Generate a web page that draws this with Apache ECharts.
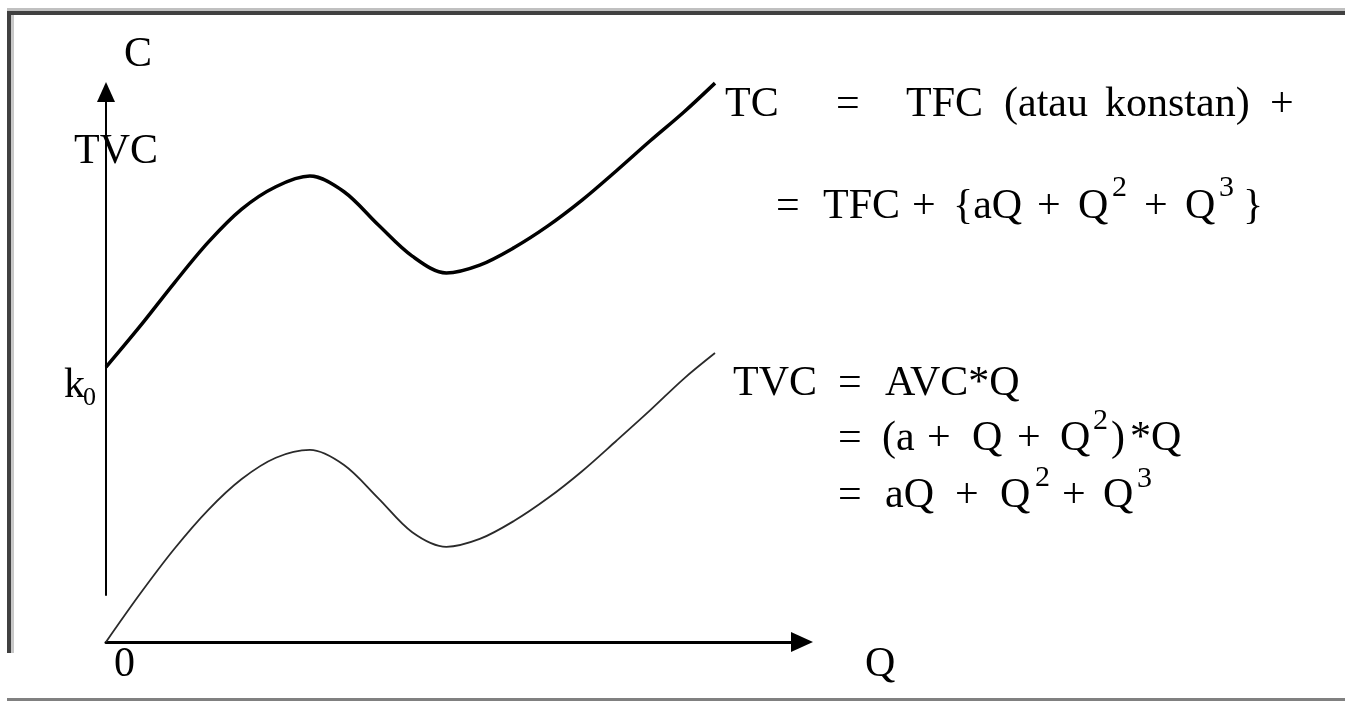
<!DOCTYPE html>
<html>
<head>
<meta charset="utf-8">
<title>TC dan TVC</title>
<script src="https://cdn.jsdelivr.net/npm/echarts@6/dist/echarts.min.js"></script>
<style>
  html, body { margin: 0; padding: 0; background: #fff; }
  #chart { width: 1345px; height: 701px; }
</style>
</head>
<body>
<div id="chart"></div>
<script>
// Output quantity Q
const quantity = [0, 0.49, 0.98, 1.47, 1.95, 2.44, 2.93, 3.42, 3.91, 4.40, 4.89, 5.37, 5.86, 6.35, 6.84, 7.33, 7.82, 8.30, 8.75];
// Total cost TC (starts at the fixed cost k0)
const totalCost = [4.91, 5.64, 6.41, 7.14, 7.73, 8.13, 8.32, 8.04, 7.45, 6.89, 6.59, 6.73, 7.04, 7.43, 7.89, 8.41, 8.95, 9.46, 9.98];
// Total variable cost TVC (starts at the origin)
const variableCost = [0, 0.86, 1.66, 2.36, 2.91, 3.29, 3.43, 3.16, 2.57, 1.96, 1.70, 1.84, 2.16, 2.57, 3.05, 3.59, 4.14, 4.70, 5.16];

const axisMax = 10;

const serif = '"Liberation Serif", "Times New Roman", serif';
const MAIN = 42;
const SUP = 30;

// [text, left x, middle y, font size]
const textLayout = [
  // axis labels
  ['C', 124, 55, MAIN],
  ['TVC', 74, 152, MAIN],
  ['k', 64, 386, MAIN],
  ['0', 83, 398, 26],
  ['0', 114, 665, MAIN],
  ['Q', 865, 665, MAIN],
  // TC = TFC (atau konstan) +
  ['TC', 725, 105, MAIN],
  ['=', 836, 105, MAIN],
  ['TFC', 906, 105, MAIN],
  ['(atau', 1004, 105, MAIN],
  ['konstan)', 1105, 105, MAIN],
  ['+', 1270, 105, MAIN],
  // = TFC + {aQ + Q2 + Q3}
  ['=', 776, 207, MAIN],
  ['TFC', 823, 207, MAIN],
  ['+', 912, 207, MAIN],
  ['{aQ', 953, 207, MAIN],
  ['+', 1037, 207, MAIN],
  ['Q', 1078, 207, MAIN],
  ['2', 1112, 188, SUP],
  ['+', 1144, 207, MAIN],
  ['Q', 1185, 207, MAIN],
  ['3', 1219, 188, SUP],
  ['}', 1243, 207, MAIN],
  // TVC = AVC*Q
  ['TVC', 733, 384, MAIN],
  ['=', 838, 384, MAIN],
  ['AVC*Q', 885, 384, MAIN],
  // = (a + Q + Q2)*Q
  ['=', 838, 439, MAIN],
  ['(a', 882, 439, MAIN],
  ['+', 927, 439, MAIN],
  ['Q', 972, 439, MAIN],
  ['+', 1017, 439, MAIN],
  ['Q', 1060, 439, MAIN],
  ['2', 1093, 421, SUP],
  [')', 1111, 439, MAIN],
  ['*Q', 1130, 439, MAIN],
  // = aQ + Q2 + Q3
  ['=', 838, 496, MAIN],
  ['aQ', 885, 496, MAIN],
  ['+', 955, 496, MAIN],
  ['Q', 1000, 496, MAIN],
  ['2', 1035, 478, SUP],
  ['+', 1062, 496, MAIN],
  ['Q', 1103, 496, MAIN],
  ['3', 1137, 479, SUP]
];

function textEl(t) {
  return {
    type: 'text',
    x: t[1],
    y: t[2],
    silent: true,
    z: 10,
    style: {
      text: t[0],
      font: t[3] + 'px ' + serif,
      fill: '#000',
      align: 'left',
      verticalAlign: 'middle',
      textAlign: 'left',
      textVerticalAlign: 'middle'
    }
  };
}

// page frame
const frame = [
  { type: 'line', silent: true, shape: { x1: 7, y1: 9.5, x2: 1345, y2: 9.5 }, style: { stroke: '#c0c0c0', lineWidth: 3 } },
  { type: 'line', silent: true, shape: { x1: 7, y1: 13, x2: 1345, y2: 13 }, style: { stroke: '#404040', lineWidth: 4 } },
  { type: 'line', silent: true, shape: { x1: 9, y1: 11, x2: 9, y2: 653 }, style: { stroke: '#404040', lineWidth: 4 } },
  { type: 'line', silent: true, shape: { x1: 12.5, y1: 15, x2: 12.5, y2: 653 }, style: { stroke: '#c8c8c8', lineWidth: 3 } },
  { type: 'line', silent: true, shape: { x1: 7, y1: 699.5, x2: 1345, y2: 699.5 }, style: { stroke: '#808080', lineWidth: 3 } }
];

const chart = echarts.init(document.getElementById('chart'), null, { renderer: 'canvas' });

chart.setOption({
  animation: false,
  backgroundColor: '#ffffff',
  grid: [
    { left: 106, right: 543, top: 82, bottom: 59 },
    { left: 106, right: 543, top: 92, bottom: 106 }
  ],
  xAxis: [
    {
      gridIndex: 0, type: 'value', min: 0, max: axisMax,
      axisLine: {
        show: true, onZero: false,
        symbol: ['none', 'triangle'], symbolSize: [20, 22],
        lineStyle: { color: '#000', width: 3 }
      },
      axisTick: { show: false }, axisLabel: { show: false }, splitLine: { show: false }
    },
    { gridIndex: 1, type: 'value', min: 0, max: 1, show: false }
  ],
  yAxis: [
    { gridIndex: 0, type: 'value', min: 0, max: axisMax, show: false },
    {
      gridIndex: 1, type: 'value', min: 0, max: 1,
      axisLine: {
        show: true, onZero: false,
        symbol: ['none', 'triangle'], symbolSize: [18, 20],
        lineStyle: { color: '#000', width: 2 }
      },
      axisTick: { show: false }, axisLabel: { show: false }, splitLine: { show: false }
    }
  ],
  series: [
    {
      name: 'TC', type: 'line', xAxisIndex: 0, yAxisIndex: 0,
      data: quantity.map((q, i) => [q, totalCost[i]]),
      smooth: 0.33, symbol: 'none', silent: true,
      lineStyle: { color: '#000', width: 3.5, join: 'round' }
    },
    {
      name: 'TVC', type: 'line', xAxisIndex: 0, yAxisIndex: 0,
      data: quantity.map((q, i) => [q, variableCost[i]]),
      smooth: 0.33, symbol: 'none', silent: true,
      lineStyle: { color: '#2a2a2a', width: 1.8, join: 'round' }
    }
  ],
  graphic: frame.concat(textLayout.map(textEl))
});
</script>
</body>
</html>
